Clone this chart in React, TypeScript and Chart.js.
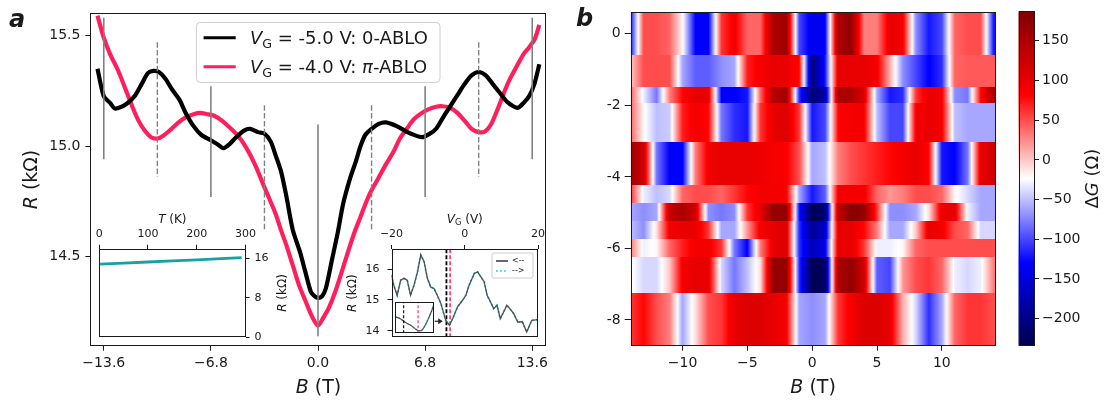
import React, { useEffect, useRef } from "react";
import { Chart, registerables } from "chart.js";

Chart.register(...registerables);

// ===================== DATA =====================
// Panel a – magnetoresistance R(B)
const blackB = [-14.0, -13.6, -13.2, -12.9, -12.4, -12.0, -11.6, -11.2, -10.8, -10.45, -10.1, -9.7, -9.3, -8.8, -8.4, -7.9, -7.4, -6.8, -6.3, -6.0, -5.6, -5.2, -4.7, -4.3, -3.8, -3.4, -3.0, -2.7, -2.35, -2.0, -1.6, -1.14, -0.8, -0.45, -0.2, 0, 0.25, 0.5, 0.9, 1.25, 1.6, 2.05, 2.4, 2.7, 3.0, 3.4, 3.85, 4.3, 5.0, 5.5, 5.9, 6.6, 7.1, 7.5, 8.0, 8.4, 8.85, 9.3, 9.75, 10.2, 10.65, 11.1, 11.55, 12.0, 12.4, 12.7, 13.05, 13.4, 13.75, 14.05];
const blackR = [15.35, 15.225, 15.195, 15.17, 15.18, 15.2, 15.23, 15.28, 15.33, 15.34, 15.335, 15.306, 15.26, 15.21, 15.15, 15.09, 15.05, 15.026, 15.004, 14.99, 15.01, 15.04, 15.07, 15.078, 15.063, 15.056, 15.02, 14.96, 14.886, 14.77, 14.62, 14.52, 14.43, 14.34, 14.32, 14.313, 14.32, 14.357, 14.49, 14.607, 14.74, 14.857, 14.93, 15.0, 15.05, 15.078, 15.1, 15.107, 15.09, 15.07, 15.056, 15.04, 15.056, 15.078, 15.137, 15.18, 15.23, 15.28, 15.32, 15.335, 15.32, 15.28, 15.24, 15.2, 15.18, 15.173, 15.195, 15.225, 15.284, 15.37];
const pinkB = [-14.0, -13.6, -13.2, -12.7, -12.2, -11.8, -11.4, -11.0, -10.6, -10.2, -9.8, -9.3, -8.85, -8.4, -7.9, -7.5, -7.0, -6.6, -6.1, -5.7, -5.2, -4.8, -4.3, -3.9, -3.5, -3.2, -2.7, -2.35, -2.0, -1.6, -1.2, -0.8, -0.4, 0, 0.35, 0.7, 1.1, 1.5, 1.9, 2.3, 2.7, 3.1, 3.4, 3.85, 4.3, 4.8, 5.2, 5.7, 6.1, 6.6, 7.0, 7.5, 7.9, 8.4, 8.85, 9.3, 9.75, 10.2, 10.6, 11.0, 11.4, 11.8, 12.2, 12.7, 13.05, 13.4, 13.75, 14.05];
const pinkR = [15.59, 15.49, 15.416, 15.343, 15.254, 15.18, 15.115, 15.07, 15.04, 15.034, 15.048, 15.078, 15.107, 15.13, 15.144, 15.15, 15.144, 15.137, 15.115, 15.09, 15.056, 15.02, 14.96, 14.9, 14.83, 14.78, 14.695, 14.62, 14.55, 14.46, 14.37, 14.3, 14.232, 14.188, 14.225, 14.27, 14.342, 14.43, 14.52, 14.607, 14.68, 14.754, 14.8, 14.857, 14.916, 14.975, 15.034, 15.085, 15.122, 15.15, 15.166, 15.178, 15.18, 15.173, 15.15, 15.115, 15.078, 15.063, 15.066, 15.1, 15.166, 15.24, 15.306, 15.372, 15.416, 15.446, 15.482, 15.548];
const seriesGate = ["-5.0", "-4.0"];
const seriesPhase = ["0", "π"];

const mainXTicks = [-13.6, -6.8, 0, 6.8, 13.6];
const mainXLabels = ["−13.6", "−6.8", "0.0", "6.8", "13.6"];
const mainYTicks = [14.5, 15.0, 15.5];
const mainYLabels = ["14.5", "15.0", "15.5"];

// marker lines in panel a
const solidB = [-13.6, -6.8, 0, 6.8, 13.6];
const solidTop = [15.58, 15.27, 15.097, 15.27, 15.58];
const solidBot = [14.94, 14.77, 14.14, 14.77, 14.94];
const dashB = [-10.2, -3.4, 3.4, 10.2];
const dashTop = [15.47, 15.185, 15.185, 15.47];
const dashBot = [14.86, 14.62, 14.62, 14.86];

// inset: R(T)
const tempK = [2, 50, 100, 150, 200, 250, 292];
const tempR = [14.85, 15.08, 15.3, 15.52, 15.75, 15.97, 16.2];
const tempTicks = [0, 100, 200, 300];
const tempRTicks = [0, 8, 16];

// inset: R(VG)
const gateV = [-20, -19.4, -18.45, -17.5, -16.6, -15.7, -14.8, -13.85, -12.9, -12, -11.1, -10.2, -9.3, -8.4, -7.5, -6.5, -5.2, -4.2, -3.3, -2.0, -0.6, 0.3, 1.2, 2.6, 3.5, 4.4, 5.3, 6.1, 7.0, 7.9, 8.8, 9.7, 10.6, 11.5, 12.4, 13.3, 14.5, 15.7, 16.9, 18.3, 20];
const gateR = [15.8, 15.48, 15.15, 15.64, 15.7, 15.64, 15.15, 15.48, 15.91, 16.46, 16.24, 15.7, 15.42, 15.37, 15.15, 14.88, 14.34, 14.18, 14.39, 14.77, 14.99, 15.15, 15.48, 15.86, 15.91, 15.75, 15.59, 15.15, 14.94, 14.72, 14.83, 14.39, 14.61, 14.83, 14.7, 14.57, 14.28, 14.3, 13.96, 14.34, 14.36];
const gateTicks = [-20, 0, 20];
const gateTickLabels = ["−20", "0", "20"];
const gateRTicks = [14, 15, 16];
const gateMarks = [-5.0, -4.0];
const sweepNames = ["<--", "-->"];
// zoomed sub-inset
const zoomV = [-5.57, -5.23, -4.88, -4.54, -4.19, -3.96, -3.73, -3.5, -3.27, -3.04, -2.92];
const zoomR = [14.26, 14.23, 14.17, 14.13, 14.07, 14.04, 14.05, 14.13, 14.24, 14.37, 14.45];
const arrowV = [-8.2, -6.0];
const arrowR = [14.31, 14.31];

// Panel b – ΔG(B, VG) map
const heatB = [-14, -13, -12, -11, -10, -9, -8, -7, -6, -5, -4, -3, -2, -1, 0, 1, 2, 3, 4, 5, 6, 7, 8, 9, 10, 11, 12, 13, 14];
const rowEdges = [0.6, -0.58, -1.49, -1.93, -3.03, -4.22, -4.73, -5.23, -5.73, -6.24, -7.24, -8.72];
const heatRows = [
  [-120, 50, 50, 40, -20, -130, -130, 60, 90, 40, 40, 150, 160, -100, -140, -130, 150, 170, 30, 30, 100, 90, -70, -120, -100, 40, 50, 50, -120],
  [0, 50, 50, 50, -60, -90, -90, -70, -60, 70, 90, 100, 100, 80, -210, -120, 100, 100, 100, 90, 10, -70, -100, -130, -110, 40, 45, 45, 45],
  [40, -30, -80, 30, 80, 100, 100, -130, -130, -120, 40, 140, 160, -110, -210, -180, 150, 150, 110, -60, -120, -110, 60, 100, 90, -70, -80, 80, 150],
  [40, -20, -50, -45, 70, 90, 80, -80, -110, -120, 60, 100, 110, 60, -120, -100, 80, 90, 90, -50, -100, -100, 90, 100, 90, -50, -60, -60, -60],
  [160, 120, -80, -130, -130, 30, 90, 100, 100, 100, 95, 90, 85, 50, -60, -50, 30, 50, 60, 70, 80, 90, 100, 80, -120, -130, -80, 100, 120],
  [60, -30, -50, -40, 40, 50, 50, 40, 60, 80, 90, 90, 90, -60, -120, -90, 90, 90, 90, 40, 20, 30, 50, 50, 40, -20, -40, -60, -60],
  [-60, -70, -60, 130, 150, 120, -70, -80, -70, 60, 100, 170, 170, -120, -230, -210, 130, 180, 170, 60, -70, -70, -60, -10, 100, 100, -30, -60, -60],
  [-50, -70, -10, 90, 100, 100, 60, -60, -60, 20, 90, 100, 110, -110, -190, -160, 100, 100, 80, 30, -60, -60, 0, 100, 90, 50, 40, -40, -40],
  [30, -30, -20, 40, 70, 90, 90, 60, -80, -130, 30, 100, 110, -110, -170, -140, 100, 100, 60, -30, -30, -20, 40, 50, 50, 50, 50, 50, 50],
  [-20, -40, -40, 0, 90, 100, 100, -40, -80, -50, -10, 170, 170, -110, -230, -220, 150, 170, 120, -90, -100, 20, 50, 60, 40, -30, -40, -30, 30],
  [60, 80, 50, 30, -60, -10, 50, 60, 100, 110, 110, 100, 90, -60, -70, -60, 60, 90, 110, 110, 100, 10, -40, -110, -60, 40, 60, 60, 50],
];
const heatXRange = [-14.0, 14.14];
const heatXTicks = [-10, -5, 0, 5, 10];
const heatXLabels = ["−10", "−5", "0", "5", "10"];
const heatYTicks = [0, -2, -4, -6, -8];
const heatYLabels = ["0", "-2", "-4", "-6", "-8"];
const cbRange = [-234, 187];
const cbTicks = [150, 100, 50, 0, -50, -100, -150, -200];
const cbLabels = ["150", "100", "50", "0", "−50", "−100", "−150", "−200"];

// ===================== STYLE / LAYOUT =====================
const FAMILY = '"DejaVu Sans", sans-serif';
const INK = "#1a1a1a";
const PINK = "#ff1f5b";
const TEAL = "#16a2a2";
const CYAN = "#10d8d8";
const GRAY = "#808080";

type Box = { x: number; y: number; w: number; h: number };
type Area = { l: number; t: number; r: number; b: number };
const MAIN_BOX: Box = { x: 0, y: 0, w: 560, h: 401 };
const MAIN_AREA: Area = { l: 90.4, t: 5, r: 546.4, b: 345.7 };
const T_BOX: Box = { x: 60, y: 200, w: 250, h: 160 };
const T_AREA: Area = { l: 99.2, t: 248.7, r: 245.5, b: 337.3 };
const G_BOX: Box = { x: 330, y: 200, w: 228, h: 160 };
const G_AREA: Area = { l: 391.5, t: 249, r: 538, b: 337.3 };
const Z_BOX: Box = { x: 390, y: 296, w: 50, h: 42 };
const Z_AREA: Area = { l: 394.7, t: 301.7, r: 433.7, b: 333.3 };
const H_BOX: Box = { x: 560, y: 0, w: 445, h: 401 };
const H_AREA: Area = { l: 630.7, t: 6, r: 995.5, b: 345.7 };
const CB_BOX: Box = { x: 1005, y: 0, w: 103, h: 401 };
const CB_AREA: Area = { l: 1018.5, t: 6, r: 1035, b: 345.7 };

type Seg = { t: string; it?: boolean; sub?: boolean };
const fontOf = (size: number, it?: boolean, bold?: boolean) => `${it ? "italic " : ""}${bold ? "bold " : ""}${size}px ${FAMILY}`;
function richWidth(ctx: CanvasRenderingContext2D, segs: Seg[], size: number) {
  let w = 0;
  for (const s of segs) {
    ctx.font = fontOf(s.sub ? size * 0.7 : size, s.it);
    w += ctx.measureText(s.t).width;
  }
  return w;
}
function drawRich(ctx: CanvasRenderingContext2D, segs: Seg[], x: number, y: number, size: number, align: "left" | "center" | "right" = "left", color = INK) {
  const w = richWidth(ctx, segs, size);
  let cx = align === "left" ? x : align === "center" ? x - w / 2 : x - w;
  const base = y + size * 0.36;
  ctx.fillStyle = color;
  ctx.textAlign = "left";
  ctx.textBaseline = "alphabetic";
  for (const s of segs) {
    const sz = s.sub ? size * 0.7 : size;
    ctx.font = fontOf(sz, s.it);
    ctx.fillText(s.t, cx, base + (s.sub ? size * 0.2 : 0));
    cx += ctx.measureText(s.t).width;
  }
}
function drawRichRot(ctx: CanvasRenderingContext2D, segs: Seg[], x: number, y: number, size: number) {
  ctx.save();
  ctx.translate(x, y);
  ctx.rotate(-Math.PI / 2);
  drawRich(ctx, segs, 0, 0, size, "center");
  ctx.restore();
}
function rrect(ctx: CanvasRenderingContext2D, x: number, y: number, w: number, h: number, r: number) {
  ctx.beginPath();
  ctx.moveTo(x + r, y);
  ctx.arcTo(x + w, y, x + w, y + h, r);
  ctx.arcTo(x + w, y + h, x, y + h, r);
  ctx.arcTo(x, y + h, x, y, r);
  ctx.arcTo(x, y, x + w, y, r);
  ctx.closePath();
}

type AxisSpec = { pos?: "top" | "bottom" | "left" | "right"; min: number; max: number; ticks?: number[]; labels?: string[]; font?: number; tickLen?: number; pad?: number; display?: boolean };

function buildOptions(box: Box, area: Area, axes: Record<string, AxisSpec>) {
  const m: any = { left: area.l - box.x, top: area.t - box.y, right: box.x + box.w - area.r, bottom: box.y + box.h - area.b };
  const pad: any = { ...m };
  const scales: any = {};
  for (const [id, spec] of Object.entries(axes)) {
    if (spec.display === false) {
      scales[id] = { type: "linear", display: false, min: spec.min, max: spec.max };
      continue;
    }
    const pos = spec.pos as string;
    const size = m[pos];
    pad[pos] = 0;
    const horiz = pos === "top" || pos === "bottom";
    const ticks = spec.ticks as number[];
    const labels = spec.labels || ticks.map((t) => String(t));
    scales[id] = {
      type: "linear",
      position: pos,
      min: spec.min,
      max: spec.max,
      afterFit: (s: any) => {
        if (horiz) s.height = size;
        else s.width = size;
      },
      afterBuildTicks: (s: any) => {
        s.ticks = ticks.map((v) => ({ value: v }));
      },
      ticks: {
        autoSkip: false,
        maxRotation: 0,
        minRotation: 0,
        padding: spec.pad,
        color: INK,
        font: { family: FAMILY, size: spec.font },
        callback: (v: number) => {
          const i = ticks.findIndex((t) => Math.abs(t - v) < 1e-6);
          return i >= 0 ? labels[i] : "";
        },
      },
      grid: { display: true, drawOnChartArea: false, drawTicks: true, tickLength: spec.tickLen, tickColor: INK, tickWidth: 1, color: INK },
      border: { display: false },
    };
  }
  return {
    animation: false,
    responsive: false,
    maintainAspectRatio: false,
    events: [],
    layout: { padding: pad },
    elements: { point: { radius: 0 } },
    plugins: { legend: { display: false }, tooltip: { enabled: false }, title: { display: false } },
    scales,
  };
}

const framePlugin = {
  id: "frame",
  afterDatasetsDraw(chart: any) {
    const { ctx, chartArea: a } = chart;
    ctx.save();
    ctx.strokeStyle = INK;
    ctx.lineWidth = 1;
    ctx.strokeRect(Math.round(a.left) + 0.5, Math.round(a.top) + 0.5, Math.round(a.right) - Math.round(a.left) - 1, Math.round(a.bottom) - Math.round(a.top) - 1);
    ctx.restore();
  },
};
const whiteBg = {
  id: "whiteBg",
  beforeDraw(chart: any) {
    const { ctx, chartArea: a } = chart;
    ctx.save();
    ctx.fillStyle = "#fff";
    ctx.fillRect(a.left, a.top, a.width, a.height);
    ctx.restore();
  },
};

const pts = (xs: number[], ys: number[]) => xs.map((x, i) => ({ x, y: ys[i] }));
const line = (data: any[], color: string, width: number, dash: number[] = [], extra: any = {}) => ({
  data,
  showLine: true,
  borderColor: color,
  backgroundColor: color,
  borderWidth: width,
  borderDash: dash,
  pointRadius: 0,
  fill: false,
  ...extra,
});

// seismic colormap
const SEISMIC = [
  [0, 0, 0.3],
  [0, 0, 1],
  [1, 1, 1],
  [1, 0, 0],
  [0.5, 0, 0],
];
function seismic(v: number) {
  let t = (v - cbRange[0]) / (cbRange[1] - cbRange[0]);
  t = Math.max(0, Math.min(1, t));
  const s = t * 4;
  const i = Math.min(3, Math.floor(s));
  const f = s - i;
  const c = SEISMIC[i].map((c0, k) => Math.round((c0 + (SEISMIC[i + 1][k] - c0) * f) * 255));
  return `rgb(${c[0]},${c[1]},${c[2]})`;
}

// ===================== CHART BUILDERS =====================
function buildMain() {
  const datasets: any[] = [];
  solidB.forEach((b, i) => datasets.push(line(pts([b, b], [solidTop[i], solidBot[i]]), GRAY, 1.6)));
  dashB.forEach((b, i) => datasets.push(line(pts([b, b], [dashTop[i], dashBot[i]]), GRAY, 1.4, [5.5, 2.4])));
  datasets.push(line(pts(blackB, blackR), "#000", 4.2, [], { tension: 0.25, borderJoinStyle: "round" }));
  datasets.push(line(pts(pinkB, pinkR), PINK, 4.2, [], { tension: 0.25, borderJoinStyle: "round" }));
  const deco = {
    id: "mainDeco",
    afterDraw(chart: any) {
      const { ctx, chartArea: a } = chart;
      // legend
      const lx = a.left + 106, ly = a.top + 9, lw = 243.6, lh = 60;
      ctx.save();
      rrect(ctx, lx, ly, lw, lh, 4);
      ctx.fillStyle = "rgba(255,255,255,0.85)";
      ctx.fill();
      ctx.strokeStyle = "#cccccc";
      ctx.lineWidth = 1;
      ctx.stroke();
      const colors = ["#000", PINK];
      [15.3, 44.3].forEach((dy, i) => {
        ctx.beginPath();
        ctx.moveTo(lx + 7.2, ly + dy);
        ctx.lineTo(lx + 39.3, ly + dy);
        ctx.strokeStyle = colors[i];
        ctx.lineWidth = 3;
        ctx.stroke();
        drawRich(ctx, [{ t: "V", it: true }, { t: "G", sub: true }, { t: ` = ${seriesGate[i]} V: ` }, { t: seriesPhase[i], it: i === 1 }, { t: "-ABLO" }], lx + 53.6, ly + dy, 18);
      });
      drawRichRot(ctx, [{ t: "R", it: true }, { t: " (kΩ)" }], a.left - 60, (a.top + a.bottom) / 2, 19);
      drawRich(ctx, [{ t: "B", it: true }, { t: " (T)" }], (a.left + a.right) / 2, a.bottom + 40, 19, "center");
      ctx.fillStyle = INK;
      ctx.font = fontOf(24, true, true);
      ctx.textAlign = "left";
      ctx.textBaseline = "alphabetic";
      ctx.fillText("a", 9, 27);
      ctx.restore();
    },
  };
  return {
    type: "scatter",
    data: { datasets },
    options: buildOptions(MAIN_BOX, MAIN_AREA, {
      x: { pos: "bottom", min: -14.45, max: 14.5, ticks: mainXTicks, labels: mainXLabels, font: 14, tickLen: 5, pad: 4 },
      y: { pos: "left", min: 14.097, max: 15.6, ticks: mainYTicks, labels: mainYLabels, font: 14, tickLen: 5, pad: 5 },
    }),
    plugins: [framePlugin, deco],
  };
}

function buildTemp() {
  const deco = {
    id: "tempDeco",
    afterDraw(chart: any) {
      const { ctx, chartArea: a } = chart;
      drawRich(ctx, [{ t: "T", it: true }, { t: " (K)" }], (a.left + a.right) / 2, a.top - 30.4, 12, "center");
      drawRichRot(ctx, [{ t: "R", it: true }, { t: " (kΩ)" }], a.right + 36.5, (a.top + a.bottom) / 2, 12);
    },
  };
  return {
    type: "scatter",
    data: { datasets: [line(pts(tempK, tempR), TEAL, 2.8)] },
    options: buildOptions(T_BOX, T_AREA, {
      x: { pos: "top", min: 0, max: 300, ticks: tempTicks, font: 11, tickLen: 4, pad: 4 },
      y: { pos: "right", min: 0, max: 18, ticks: tempRTicks, font: 11, tickLen: 4, pad: 5 },
    }),
    plugins: [whiteBg, framePlugin, deco],
  };
}

function buildGate() {
  const yMin = 13.79, yMax = 16.65;
  const markColors = ["#000", PINK];
  const datasets: any[] = [];
  datasets.push(line(pts(gateV, gateR), "#505050", 1.3));
  datasets.push(line(pts(gateV, gateR), CYAN, 1.8, [1.8, 2.2]));
  gateMarks.forEach((v, i) => datasets.push(line(pts([v, v], [yMin, yMax]), markColors[i], i === 0 ? 1.8 : 1.5, [4, 2])));
  const deco = {
    id: "gateDeco",
    afterDraw(chart: any) {
      const { ctx, chartArea: a, scales } = chart;
      drawRich(ctx, [{ t: "V", it: true }, { t: "G", sub: true }, { t: " (V)" }], (a.left + a.right) / 2, a.top - 30.7, 12, "center");
      drawRichRot(ctx, [{ t: "R", it: true }, { t: " (kΩ)" }], a.left - 39.7, (a.top + a.bottom) / 2, 12);
      // arrow
      const x0 = scales.x.getPixelForValue(arrowV[0]), x1 = scales.x.getPixelForValue(arrowV[1]);
      const y0 = scales.y.getPixelForValue(arrowR[0]), y1 = scales.y.getPixelForValue(arrowR[1]);
      ctx.save();
      ctx.strokeStyle = "#222";
      ctx.fillStyle = "#222";
      ctx.lineWidth = 1.2;
      ctx.beginPath();
      ctx.moveTo(x0, y0);
      ctx.lineTo(x1 - 3, y1);
      ctx.stroke();
      ctx.beginPath();
      ctx.moveTo(x1, y1);
      ctx.lineTo(x1 - 4.5, y1 - 3);
      ctx.lineTo(x1 - 4.5, y1 + 3);
      ctx.closePath();
      ctx.fill();
      // legend
      const lx = a.left + 100.5, ly = a.top + 4, lw = 41, lh = 25;
      rrect(ctx, lx, ly, lw, lh, 2);
      ctx.fillStyle = "rgba(255,255,255,0.85)";
      ctx.fill();
      ctx.strokeStyle = "#cccccc";
      ctx.lineWidth = 1;
      ctx.stroke();
      [8, 18].forEach((dy, i) => {
        ctx.beginPath();
        ctx.moveTo(lx + 4, ly + dy);
        ctx.lineTo(lx + 16, ly + dy);
        ctx.strokeStyle = i === 0 ? "#404040" : CYAN;
        ctx.lineWidth = 1.6;
        ctx.setLineDash(i === 0 ? [] : [1.8, 2.2]);
        ctx.stroke();
        ctx.setLineDash([]);
        ctx.fillStyle = INK;
        ctx.font = fontOf(8);
        ctx.textAlign = "left";
        ctx.textBaseline = "middle";
        ctx.fillText(sweepNames[i], lx + 20, ly + dy);
      });
      ctx.restore();
    },
  };
  return {
    type: "scatter",
    data: { datasets },
    options: buildOptions(G_BOX, G_AREA, {
      x: { pos: "top", min: -20, max: 20, ticks: gateTicks, labels: gateTickLabels, font: 11, tickLen: 4, pad: 4 },
      y: { pos: "left", min: yMin, max: yMax, ticks: gateRTicks, font: 11, tickLen: 4, pad: 8 },
    }),
    plugins: [whiteBg, framePlugin, deco],
  };
}

function buildZoom() {
  const yMin = 14.0, yMax = 14.5;
  const markColors = ["#000", PINK];
  const datasets: any[] = [];
  gateMarks.forEach((v, i) => datasets.push(line(pts([v, v], [yMin, yMax]), markColors[i], 1.1, [3, 2])));
  datasets.push(line(pts(zoomV, zoomR), "#505050", 1.2, [], { tension: 0.3 }));
  datasets.push(line(pts(zoomV, zoomR), CYAN, 1.4, [1.4, 2], { tension: 0.3 }));
  return {
    type: "scatter",
    data: { datasets },
    options: buildOptions(Z_BOX, Z_AREA, {
      x: { min: -5.62, max: -2.92, display: false },
      y: { min: yMin, max: yMax, display: false },
    }),
    plugins: [whiteBg, framePlugin],
  };
}

function buildHeat() {
  const cells = {
    id: "cells",
    beforeDatasetsDraw(chart: any) {
      const { ctx, chartArea: a, scales } = chart;
      const xs = scales.x, ys = scales.y;
      const b0 = heatB[0], b1 = heatB[heatB.length - 1];
      const x0 = xs.getPixelForValue(b0), x1 = xs.getPixelForValue(b1);
      const SUB = 10;
      ctx.save();
      ctx.beginPath();
      ctx.rect(a.left, a.top, a.width, a.height);
      ctx.clip();
      heatRows.forEach((row, r) => {
        const yt = Math.round(ys.getPixelForValue(rowEdges[r]));
        const yb = Math.round(ys.getPixelForValue(rowEdges[r + 1]));
        const g = ctx.createLinearGradient(x0, 0, x1, 0);
        for (let j = 0; j < heatB.length - 1; j++) {
          for (let k = 0; k < SUB; k++) {
            const f = k / SUB;
            const v = row[j] * (1 - f) + row[j + 1] * f;
            const b = heatB[j] + (heatB[j + 1] - heatB[j]) * f;
            g.addColorStop((b - b0) / (b1 - b0), seismic(v));
          }
        }
        g.addColorStop(1, seismic(row[row.length - 1]));
        ctx.fillStyle = g;
        ctx.fillRect(a.left, yt, a.width, yb - yt);
      });
      ctx.restore();
    },
  };
  const deco = {
    id: "heatDeco",
    afterDraw(chart: any) {
      const { ctx, chartArea: a } = chart;
      drawRich(ctx, [{ t: "B", it: true }, { t: " (T)" }], (a.left + a.right) / 2, a.bottom + 40, 19, "center");
      ctx.save();
      ctx.fillStyle = INK;
      ctx.font = fontOf(24, true, true);
      ctx.textAlign = "left";
      ctx.textBaseline = "alphabetic";
      ctx.fillText("b", 16, 26);
      ctx.restore();
    },
  };
  return {
    type: "scatter",
    data: { datasets: [{ data: [], showLine: false, pointRadius: 0 }] },
    options: buildOptions(H_BOX, H_AREA, {
      x: { pos: "bottom", min: heatXRange[0], max: heatXRange[1], ticks: heatXTicks, labels: heatXLabels, font: 14, tickLen: 5, pad: 4 },
      y: { pos: "left", min: rowEdges[rowEdges.length - 1], max: rowEdges[0], ticks: heatYTicks, labels: heatYLabels, font: 14, tickLen: 6, pad: 4 },
    }),
    plugins: [cells, framePlugin, deco],
  };
}

function buildBar() {
  const grad = {
    id: "grad",
    beforeDatasetsDraw(chart: any) {
      const { ctx, chartArea: a, scales } = chart;
      const ys = scales.y;
      const yBot = ys.getPixelForValue(cbRange[0]), yTop = ys.getPixelForValue(cbRange[1]);
      const g = ctx.createLinearGradient(0, yBot, 0, yTop);
      const N = 120;
      for (let i = 0; i <= N; i++) {
        const v = cbRange[0] + ((cbRange[1] - cbRange[0]) * i) / N;
        g.addColorStop(i / N, seismic(v));
      }
      ctx.save();
      ctx.fillStyle = g;
      ctx.fillRect(a.left, a.top, a.width, a.height);
      ctx.restore();
    },
  };
  const deco = {
    id: "barDeco",
    afterDraw(chart: any) {
      const { ctx, chartArea: a } = chart;
      drawRichRot(ctx, [{ t: "Δ" }, { t: "G", it: true }, { t: " (Ω)" }], a.right + 57, (a.top + a.bottom) / 2, 18);
    },
  };
  return {
    type: "scatter",
    data: { datasets: [{ data: [], showLine: false, pointRadius: 0 }] },
    options: buildOptions(CB_BOX, CB_AREA, {
      x: { min: 0, max: 1, display: false },
      y: { pos: "right", min: cbRange[0], max: cbRange[1], ticks: cbTicks, labels: cbLabels, font: 14, tickLen: 4, pad: 3 },
    }),
    plugins: [grad, framePlugin, deco],
  };
}

// ===================== COMPONENTS =====================
function ChartCanvas({ box, build }: { box: Box; build: () => any }) {
  const ref = useRef<HTMLCanvasElement | null>(null);
  useEffect(() => {
    const chart = new Chart(ref.current as HTMLCanvasElement, build());
    return () => chart.destroy();
  }, []);
  return (
    <canvas
      ref={ref}
      width={box.w}
      height={box.h}
      style={{ position: "absolute", left: box.x, top: box.y, width: box.w, height: box.h }}
    />
  );
}

export default function App() {
  return (
    <div style={{ position: "fixed", left: 0, top: 0, width: 1108, height: 401, background: "#fff", overflow: "hidden" }}>
      <ChartCanvas box={MAIN_BOX} build={buildMain} />
      <ChartCanvas box={T_BOX} build={buildTemp} />
      <ChartCanvas box={G_BOX} build={buildGate} />
      <ChartCanvas box={Z_BOX} build={buildZoom} />
      <ChartCanvas box={H_BOX} build={buildHeat} />
      <ChartCanvas box={CB_BOX} build={buildBar} />
    </div>
  );
}
